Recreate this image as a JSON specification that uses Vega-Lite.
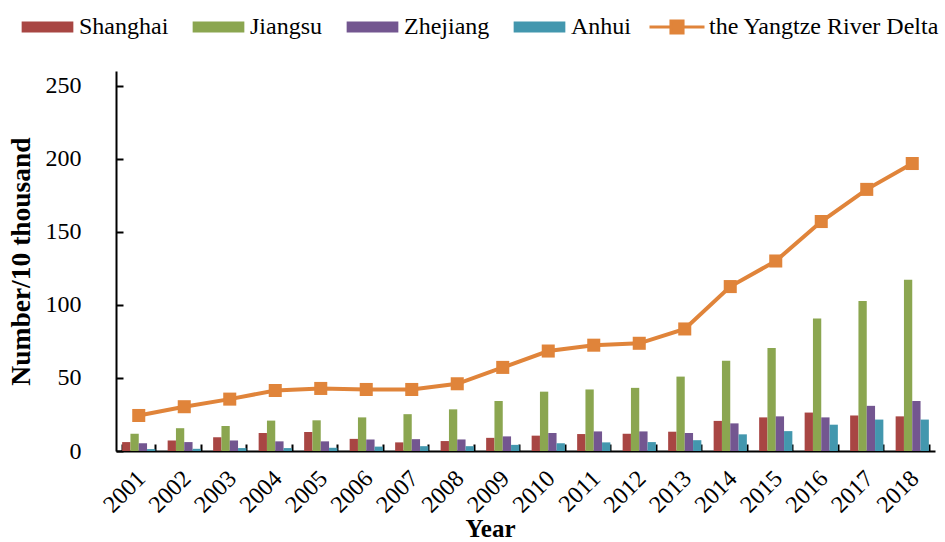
{
  "$schema": "https://vega.github.io/schema/vega-lite/v6.json",
  "width": 819,
  "height": 380,
  "autosize": {"type": "none"},
  "padding": {"left": 116, "top": 71, "right": 10, "bottom": 91},
  "background": "white",
  "config": {
    "font": "Liberation Serif",
    "view": {"stroke": null},
    "axis": {"labelFont": "Liberation Serif", "titleFont": "Liberation Serif", "labelColor": "black", "titleColor": "black", "domainColor": "black", "tickColor": "black", "grid": false},
    "legend": {"labelFont": "Liberation Serif", "labelColor": "black", "labelLimit": 0}
  },
  "datasets": {
    "bars": [
      {"year": "2001", "series": "Shanghai", "value": 6.1},
      {"year": "2001", "series": "Jiangsu", "value": 11.8},
      {"year": "2001", "series": "Zhejiang", "value": 5.3},
      {"year": "2001", "series": "Anhui", "value": 1.3},
      {"year": "2002", "series": "Shanghai", "value": 7.2},
      {"year": "2002", "series": "Jiangsu", "value": 15.6},
      {"year": "2002", "series": "Zhejiang", "value": 6.1},
      {"year": "2002", "series": "Anhui", "value": 1.5},
      {"year": "2003", "series": "Shanghai", "value": 9.4},
      {"year": "2003", "series": "Jiangsu", "value": 17.1},
      {"year": "2003", "series": "Zhejiang", "value": 7.2},
      {"year": "2003", "series": "Anhui", "value": 2.0},
      {"year": "2004", "series": "Shanghai", "value": 12.3},
      {"year": "2004", "series": "Jiangsu", "value": 20.8},
      {"year": "2004", "series": "Zhejiang", "value": 6.6},
      {"year": "2004", "series": "Anhui", "value": 2.0},
      {"year": "2005", "series": "Shanghai", "value": 13.0},
      {"year": "2005", "series": "Jiangsu", "value": 21.0},
      {"year": "2005", "series": "Zhejiang", "value": 6.6},
      {"year": "2005", "series": "Anhui", "value": 2.2},
      {"year": "2006", "series": "Shanghai", "value": 8.3},
      {"year": "2006", "series": "Jiangsu", "value": 23.0},
      {"year": "2006", "series": "Zhejiang", "value": 7.9},
      {"year": "2006", "series": "Anhui", "value": 3.0},
      {"year": "2007", "series": "Shanghai", "value": 5.9},
      {"year": "2007", "series": "Jiangsu", "value": 25.2},
      {"year": "2007", "series": "Zhejiang", "value": 8.1},
      {"year": "2007", "series": "Anhui", "value": 3.3},
      {"year": "2008", "series": "Shanghai", "value": 6.8},
      {"year": "2008", "series": "Jiangsu", "value": 28.5},
      {"year": "2008", "series": "Zhejiang", "value": 7.9},
      {"year": "2008", "series": "Anhui", "value": 3.3},
      {"year": "2009", "series": "Shanghai", "value": 9.0},
      {"year": "2009", "series": "Jiangsu", "value": 34.2},
      {"year": "2009", "series": "Zhejiang", "value": 10.0},
      {"year": "2009", "series": "Anhui", "value": 4.2},
      {"year": "2010", "series": "Shanghai", "value": 10.5},
      {"year": "2010", "series": "Jiangsu", "value": 40.6},
      {"year": "2010", "series": "Zhejiang", "value": 12.3},
      {"year": "2010", "series": "Anhui", "value": 5.3},
      {"year": "2011", "series": "Shanghai", "value": 11.6},
      {"year": "2011", "series": "Jiangsu", "value": 42.1},
      {"year": "2011", "series": "Zhejiang", "value": 13.4},
      {"year": "2011", "series": "Anhui", "value": 5.9},
      {"year": "2012", "series": "Shanghai", "value": 11.8},
      {"year": "2012", "series": "Jiangsu", "value": 43.2},
      {"year": "2012", "series": "Zhejiang", "value": 13.4},
      {"year": "2012", "series": "Anhui", "value": 6.1},
      {"year": "2013", "series": "Shanghai", "value": 13.2},
      {"year": "2013", "series": "Jiangsu", "value": 50.9},
      {"year": "2013", "series": "Zhejiang", "value": 12.3},
      {"year": "2013", "series": "Anhui", "value": 7.4},
      {"year": "2014", "series": "Shanghai", "value": 20.6},
      {"year": "2014", "series": "Jiangsu", "value": 61.8},
      {"year": "2014", "series": "Zhejiang", "value": 18.9},
      {"year": "2014", "series": "Anhui", "value": 11.4},
      {"year": "2015", "series": "Shanghai", "value": 23.0},
      {"year": "2015", "series": "Jiangsu", "value": 70.4},
      {"year": "2015", "series": "Zhejiang", "value": 23.7},
      {"year": "2015", "series": "Anhui", "value": 13.6},
      {"year": "2016", "series": "Shanghai", "value": 26.3},
      {"year": "2016", "series": "Jiangsu", "value": 90.6},
      {"year": "2016", "series": "Zhejiang", "value": 23.0},
      {"year": "2016", "series": "Anhui", "value": 18.0},
      {"year": "2017", "series": "Shanghai", "value": 24.3},
      {"year": "2017", "series": "Jiangsu", "value": 102.6},
      {"year": "2017", "series": "Zhejiang", "value": 30.9},
      {"year": "2017", "series": "Anhui", "value": 21.5},
      {"year": "2018", "series": "Shanghai", "value": 23.7},
      {"year": "2018", "series": "Jiangsu", "value": 117.1},
      {"year": "2018", "series": "Zhejiang", "value": 34.2},
      {"year": "2018", "series": "Anhui", "value": 21.5}
    ],
    "delta": [
      {"year": "2001", "total": 24.3},
      {"year": "2002", "total": 30.3},
      {"year": "2003", "total": 35.5},
      {"year": "2004", "total": 41.4},
      {"year": "2005", "total": 42.8},
      {"year": "2006", "total": 42.1},
      {"year": "2007", "total": 42.1},
      {"year": "2008", "total": 46.0},
      {"year": "2009", "total": 57.2},
      {"year": "2010", "total": 68.4},
      {"year": "2011", "total": 72.4},
      {"year": "2012", "total": 73.7},
      {"year": "2013", "total": 83.5},
      {"year": "2014", "total": 112.5},
      {"year": "2015", "total": 130.0},
      {"year": "2016", "total": 157.0},
      {"year": "2017", "total": 179.0},
      {"year": "2018", "total": 196.7}
    ]
  },
  "encoding": {
    "x": {
      "field": "year",
      "type": "ordinal",
      "scale": {"paddingInner": 0.27, "paddingOuter": 0.135},
      "axis": {
        "title": "Year",
        "titleFontSize": 25,
        "titleFontWeight": "bold",
        "titleX": 374,
        "titleY": 85,
        "titleBaseline": "alphabetic",
        "labelFontSize": 24,
        "labelAngle": -45,
        "labelPadding": 22,
        "labelOffset": -6,
        "tickBand": "extent",
        "tickSize": -7,
        "tickWidth": 2,
        "domainWidth": 2
      }
    }
  },
  "layer": [
    {
      "data": {"name": "bars"},
      "mark": {"type": "bar"},
      "encoding": {
        "xOffset": {"field": "series", "type": "nominal", "sort": ["Shanghai", "Jiangsu", "Zhejiang", "Anhui"], "scale": {"paddingInner": 0, "paddingOuter": 0}},
        "y": {
          "field": "value",
          "type": "quantitative",
          "scale": {"domain": [0, 250]},
          "axis": {
            "title": "Number/10 thousand",
            "titleFontSize": 27.5,
            "titleFontWeight": "bold",
            "titlePadding": 10,
            "labelFontSize": 24,
            "values": [0, 50, 100, 150, 200, 250],
            "tickSize": -7,
            "tickWidth": 2,
            "domainWidth": 2,
            "labelPadding": 42
          }
        },
        "fill": {
          "field": "series",
          "type": "nominal",
          "sort": ["Shanghai", "Jiangsu", "Zhejiang", "Anhui"],
          "scale": {"domain": ["Shanghai", "Jiangsu", "Zhejiang", "Anhui"], "range": ["#A84643", "#8BA650", "#735690", "#4397AE"]},
          "legend": {
            "title": null,
            "orient": "none",
            "direction": "horizontal",
            "legendX": -80.5,
            "legendY": -56,
            "labelFontSize": 24,
            "symbolType": "M-4.7,-1H4.7V1H-4.7Z",
            "symbolSize": 121,
            "symbolStrokeWidth": 0,
            "labelOffset": 19.5,
            "columnPadding": 24
          }
        }
      }
    },
    {
      "data": {"name": "delta"},
      "mark": {"type": "line", "strokeWidth": 4},
      "encoding": {
        "y": {"field": "total", "type": "quantitative"},
        "stroke": {
          "datum": "the Yangtze River Delta",
          "type": "nominal",
          "scale": {"range": ["#E0843A"]},
          "legend": {
            "title": null,
            "orient": "none",
            "legendX": 549,
            "legendY": -56,
            "labelFontSize": 24,
            "symbolType": "M-5,0H5M-1.1,-1.1H1.1V1.1H-1.1Z",
            "symbolSize": 121,
            "symbolStrokeWidth": 3,
            "symbolFillColor": "#E0843A",
            "labelOffset": 20
          }
        }
      }
    },
    {
      "data": {"name": "delta"},
      "mark": {"type": "point", "shape": "square", "filled": true, "size": 170, "color": "#E0843A", "opacity": 1},
      "encoding": {
        "y": {"field": "total", "type": "quantitative"}
      }
    }
  ]
}
